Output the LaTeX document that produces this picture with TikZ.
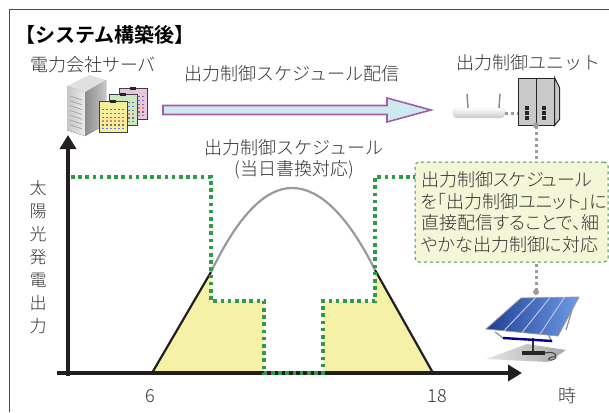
\documentclass[tikz,border=0pt]{standalone}
\usepackage{fontspec}
\setmainfont{Noto Sans CJK JP}[UprightFont=* Light, BoldFont=* Bold]
\newfontfamily\notefont{Noto Sans CJK JP}[UprightFont=* Light, RawFeature=+palt]
\usetikzlibrary{arrows.meta,positioning,calc}

\definecolor{txtgray}{HTML}{333333}
\definecolor{framegray}{HTML}{4A4A4A}
\definecolor{axisblack}{HTML}{231F20}
\definecolor{schedgreen}{HTML}{2E9A4A}
\definecolor{fillyellow}{HTML}{F5F2A8}
\definecolor{notefill}{HTML}{F4F6D8}
\definecolor{notegreen}{HTML}{3D9A4C}
\definecolor{arrowfill}{HTML}{CDEBEF}
\definecolor{arrowline}{HTML}{A35DAA}
\definecolor{curvegray}{HTML}{9A9A9A}
\definecolor{linkgray}{HTML}{9C9C9C}
\definecolor{unitgray}{HTML}{C9C9C9}
\definecolor{sheetpink}{HTML}{E8C6E2}
\definecolor{sheetgreen}{HTML}{CBE8C2}
\definecolor{sheetyellow}{HTML}{F6F09C}
\definecolor{panelblue}{HTML}{1F3F94}
\definecolor{panellight}{HTML}{6E9BE6}

\begin{document}
\begin{tikzpicture}[x=1pt, y=-1pt,
  every node/.style={inner sep=0pt, text=txtgray},
  txt/.style={font=\fontsize{18}{21}\selectfont},
  bigarrow/.style={draw=arrowline, line width=1.6pt, fill=arrowfill},
  axis/.style={draw=axisblack, line width=4.6pt, -{Triangle[length=14pt,width=16pt]}},
  side/.style={draw=axisblack, line width=2.2pt},
  sched/.style={draw=schedgreen, line width=3.4pt, dash pattern=on 3.6pt off 3.6pt},
  link/.style={draw=linkgray, line width=3pt, dash pattern=on 3pt off 3pt},
  sheet/.style={draw=black!75, line width=0.7pt},
  unitbox/.style={draw=black!85, line width=1pt, fill=unitgray, minimum width=36pt, minimum height=47pt},
  router/.style={rounded corners=4pt, top color=white, bottom color=black!22, draw=black!15, minimum width=52pt, minimum height=10pt},
  note/.style={draw=notegreen, dashed, line width=1pt, rounded corners=4pt, fill=notefill,
    minimum width=193pt, minimum height=100pt, inner xsep=6pt, text width=181pt, align=left,
    font=\notefont\fontsize{18}{21.5}\selectfont},
]
\useasboundingbox (0,0) rectangle (609,412);

% ===== Frame and heading =====
\draw[framegray, line width=1pt] (9,412) -- (9,10) -- (609,10);
\node[anchor=west, text=black, font=\fontsize{20}{24}\selectfont\bfseries] (title) at (15,35) {【システム構築後】};

% ===== Utility server with schedule sheets =====
\node[txt] (srvlabel) at (93,65) {電力会社サーバ};
\fill[left color=black!22, right color=black!8] (67,86) -- (85,92) -- (85,136) -- (67,130) -- cycle;
\fill[left color=black!45, right color=black!22] (85,92) -- (106,80) -- (106,124) -- (85,136) -- cycle;
\fill[black!12] (67,86) -- (89,75) -- (106,80) -- (85,92) -- cycle;
\foreach \k in {0,...,6}
  \draw[black!35, line width=0.8pt] (70,96+\k*4.8) -- (82,100+\k*4.8);
\foreach \sx/\sy/\sc in {119/88/sheetpink, 109/94/sheetgreen, 99/101/sheetyellow}{
  \draw[sheet, fill=\sc] (\sx,\sy) rectangle ++(28,31);
  \fill[black!85] (\sx+11,\sy-1.5) rectangle ++(6,3.5);
  \foreach \r/\mc in {0/black!55,1/blue!55,2/black!55,3/red!55,4/black!55,5/blue!55}
    \foreach \c in {0,...,5}
      \fill[\mc] (\sx+3+\c*4,\sy+8+\r*3.8) rectangle ++(2.4,1.4);
}

% ===== Schedule delivery arrow =====
\coordinate (feedL) at (163,110);
\coordinate (feedR) at (431,110);
\draw[bigarrow] ([yshift=4.5pt]feedL) -- ([xshift=-44pt,yshift=4.5pt]feedR)
  -- ([xshift=-44pt,yshift=12pt]feedR) -- (feedR) -- ([xshift=-44pt,yshift=-12pt]feedR)
  -- ([xshift=-44pt,yshift=-4.5pt]feedR) -- ([yshift=-4.5pt]feedL) -- cycle;
\node[txt] (feedlabel) at (292,74) {出力制御スケジュール配信};

% ===== Output control unit and router =====
\node[unitbox] (unit) at (536,101.5) {};
\draw[black!85, line width=1pt, fill=unitgray] (unit.north east) -- ++(5,10) -- ++(0,32) -- (unit.south east) -- cycle;
\draw[black!85, line width=1pt] (unit.north) -- (unit.south);
\foreach \ix in {525,542}
  \foreach \iy in {0,1,2}
    \fill[black!85] (\ix,106+\iy*5) rectangle ++(4,3.5);
\node[txt] (unitlabel) at (528,63) {出力制御ユニット};
\node[router] (router) at (479,113) {};
\draw[black!45, line width=1.5pt] ([xshift=-11pt]router.north) -- ++(-1,-14);
\draw[black!45, line width=1.5pt] ([xshift=20pt]router.north) -- ++(1,-14);
\draw[link] (router.east) -- (unit.west |- router.east);

% ===== Solar panel =====
\coordinate (panel) at (536,292);
\coordinate (pTL) at (521,298);
\coordinate (pTR) at (579,297);
\coordinate (pBR) at (558,336);
\coordinate (pBL) at (486,329);
\shade[left color=black!10, right color=black!35] (486,359) -- (527,344) -- (566,350) -- (548,362) -- cycle;
\draw[black!80, line width=2.5pt] (533,338) -- (533,352);
\fill[black!85] (522,351) rectangle (545,355);
\draw[black!75, line width=1pt] (545,353) .. controls (556,350) and (560,358) .. (552,360)
  .. controls (546,361) and (548,356) .. (556,357);
\draw[black!45, line width=1.2pt] (495,332) -- (503,338) (548,334) -- (552,342) (572,310) -- (566,330);
\draw[blue!60!black, line width=2.4pt] (503,338) -- (552,341);
\shade[left color=panelblue, right color=panellight, draw=black!40, line width=0.8pt]
  (pTL) -- (pTR) -- (pBR) -- (pBL) -- cycle;
\foreach \t in {0.25,0.5,0.75}
  \draw[white!70!panelblue, line width=1pt] ($(pTL)!\t!(pTR)$) -- ($(pBL)!\t!(pBR)$);

% ===== Unit to panel link, with callout on top =====
\draw[link] (unit.south) -- (panel);
\fill[linkgray] (unit.south) circle (3pt);
\fill[linkgray] (panel) circle (3pt);
\node[note] (note) at (511.5,212)
  {出力制御スケジュール\\を「出力制御ユニット」に\\直接配信することで、細\\やかな出力制御に対応};

% ===== Generation curve =====
\fill[fillyellow] (152,373) -- (211,272) -- (211,301) -- (264,301) -- (264,373) -- cycle;
\fill[fillyellow] (323,373) -- (323,301) -- (375,301) -- (375,270) -- (433,373) -- cycle;
\draw[side] (152,373) -- (211,272);
\draw[side] (375,270) -- (433,373);
\draw[curvegray, line width=2.2pt] (211,272) .. controls (238,216) and (265,188) .. (292,188)
  .. controls (320,188) and (348,216) .. (375,270);

% ===== Axes =====
\draw[axis] (68,376) -- (68,135);
\draw[axis] (57,373) -- (522,373);
\node[align=center, font=\fontsize{17}{23}\selectfont] (ylabel) at (38,257) {太\\陽\\光\\発\\電\\出\\力};
\node[txt] (t6) at (150,396) {6};
\node[txt] (t18) at (437,396) {18};
\node[txt] (hour) at (567,396) {時};

% ===== Output control schedule =====
\draw[sched] (71,177) -- (211,177) -- (211,301) -- (264,301) -- (264,373) -- (323,373)
  -- (323,301) -- (375,301) -- (375,177) -- (note.west |- 0,177);
\node[txt] (schedlabel) at (294,148) {出力制御スケジュール};
\node[txt] (schednote) at (294,170) {(当日書換対応)};

\end{tikzpicture}
\end{document}
